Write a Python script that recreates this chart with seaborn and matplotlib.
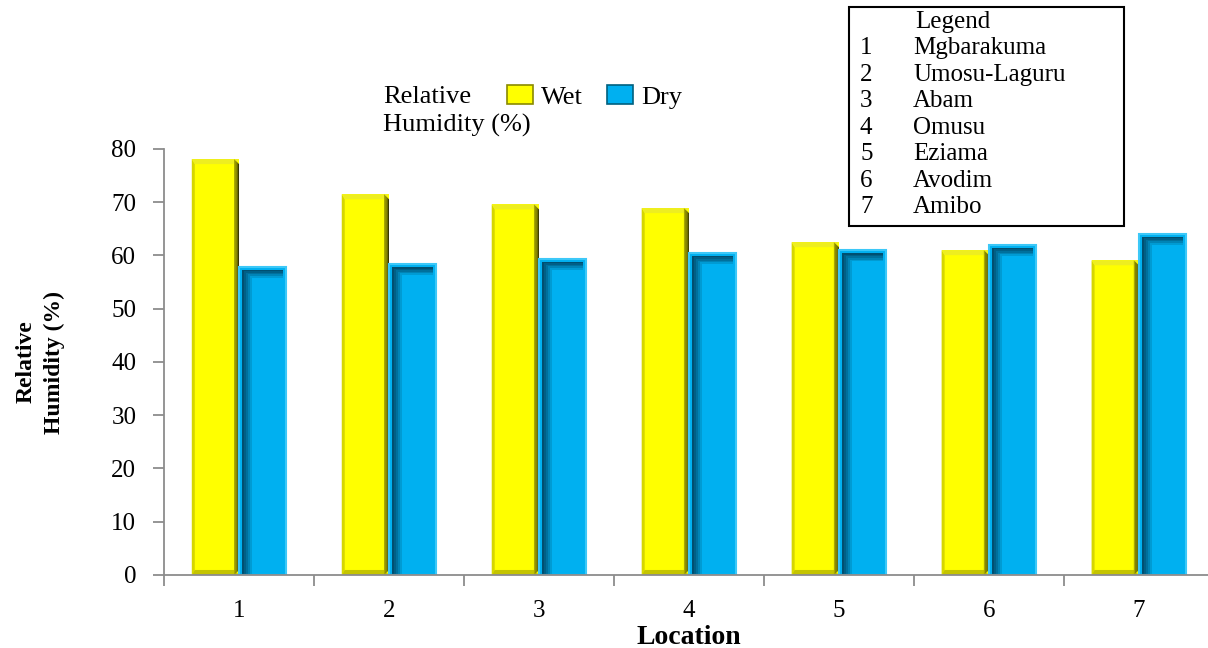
import numpy as np
import pandas as pd
import matplotlib
matplotlib.use("Agg")
import matplotlib.pyplot as plt
from matplotlib.patches import Rectangle, Polygon, Patch
import seaborn as sns

# ---- data ----
locations = ["1", "2", "3", "4", "5", "6", "7"]
location_names = ["Mgbarakuma", "Umosu-Laguru", "Abam", "Omusu",
                  "Eziama", "Avodim", "Amibo"]
seasons = ["Wet", "Dry"]
wet_rh = [78.1, 71.5, 69.6, 68.9, 62.5, 61.0, 59.1]
dry_rh = [57.9, 58.4, 59.4, 60.5, 61.0, 62.0, 64.1]
y_ticks = [0, 10, 20, 30, 40, 50, 60, 70, 80]

WET_COLOR = "#FFFF00"
DRY_COLOR = "#00B0F0"
AXIS_GREY = "#8c8c8c"

df = pd.DataFrame({
    "Location": locations * 2,
    "RH": wet_rh + dry_rh,
    "Season": ["Wet"] * len(locations) + ["Dry"] * len(locations),
})

sns.set_theme(style="ticks")
plt.rcParams["font.family"] = ["Liberation Serif", "DejaVu Serif"]
plt.rcParams["text.color"] = "black"
plt.rcParams["axes.labelcolor"] = "black"

fig = plt.figure(figsize=(12.08, 6.48), dpi=100)
ax = fig.add_axes([0.1358, 0.1127, 0.869, 0.6574])

sns.barplot(data=df, x="Location", y="RH", hue="Season",
            order=locations, hue_order=seasons,
            palette={"Wet": WET_COLOR, "Dry": DRY_COLOR},
            width=0.63, saturation=1, errorbar=None,
            edgecolor="none", linewidth=0, legend=False, ax=ax)

ax.set_xlim(-0.5, len(locations) - 0.5)
ax.set_ylim(0, 80)
ax.set_yticks(y_ticks)
ax.set_yticklabels([str(t) for t in y_ticks])

# ---- axes styling ----
for side in ("top", "right"):
    ax.spines[side].set_visible(False)
for side in ("left", "bottom"):
    ax.spines[side].set_color(AXIS_GREY)
    ax.spines[side].set_linewidth(1.3)

ax.tick_params(axis="y", which="major", left=True, length=8, width=1.3,
               color=AXIS_GREY, direction="out", pad=12, labelsize=18,
               labelcolor="black")
ax.set_xticks(np.arange(-0.5, len(locations), 1.0), minor=True)
ax.tick_params(axis="x", which="major", length=0, pad=18, labelsize=18,
               labelcolor="black")
ax.tick_params(axis="x", which="minor", bottom=True, length=8, width=1.3,
               color=AXIS_GREY, direction="out")
ax.grid(False)
ax.set_ylabel("")
ax.set_xlabel("Location", fontsize=20, fontweight="bold", labelpad=2)

fig.text(40 / 1208, 0.5 + (648 / 2 - 362) / 648, "Relative\nHumidity (%)",
         rotation=90, ha="center", va="center", multialignment="center",
         fontsize=17, fontweight="bold", linespacing=1.45)


# ---- bevelled look for the bars ----
def px_to_data(dx_px, dy_px):
    inv = ax.transData.inverted()
    (x0, y0), (x1, y1) = inv.transform([(0, 0), (dx_px, dy_px)])
    return x1 - x0, y1 - y0


bars = [p for p in ax.patches if isinstance(p, Rectangle) and p.get_height() > 0]
bx, by = px_to_data(5, 5)
for bar in bars:
    x, y = bar.get_x(), bar.get_y()
    w, h = bar.get_width(), bar.get_height()
    fc = matplotlib.colors.to_hex(bar.get_facecolor()).lower()
    z = bar.get_zorder() + 0.1
    if fc == WET_COLOR.lower():
        lx, _ = px_to_data(3, 0)
        # left face
        ax.add_patch(Polygon([(x, y), (x + lx, y + by), (x + lx, h - by), (x, h)],
                             closed=True, fc="#d6d600", ec="none", zorder=z))
        # top face
        ax.add_patch(Polygon([(x, h), (x + lx, h - by), (x + w - bx, h - by), (x + w, h)],
                             closed=True, fc="#eeee20", ec="none", zorder=z))
        # bottom face
        ax.add_patch(Polygon([(x, y), (x + lx, y + by), (x + w - bx, y + by), (x + w, y)],
                             closed=True, fc="#c4c400", ec="none", zorder=z))
        # right face, shaded to dark olive
        shades = ["#a8a800", "#7a7a00", "#545400", "#383800"]
        n = len(shades)
        for i, c in enumerate(shades):
            x0 = x + w - bx + bx * i / n
            ax.add_patch(Polygon([(x0, y + by * (i / n)), (x0, h - by * (i / n)),
                                  (x0 + bx / n, h - by * ((i + 1) / n)),
                                  (x0 + bx / n, y + by * ((i + 1) / n))],
                                 closed=True, fc=c, ec="none", zorder=z))
    elif fc == DRY_COLOR.lower():
        bx2, by2 = px_to_data(3, 3)
        ix, iy = px_to_data(10, 8)
        # inset shadow on the left
        shades = ["#004f70", "#005f86", "#00709c", "#0084b6", "#009bd3"]
        n = len(shades)
        for i, c in enumerate(shades):
            x0 = x + bx2 + ix * i / n
            ax.add_patch(Rectangle((x0, y), ix / n, h - by2 - iy * i / n,
                                   fc=c, ec="none", zorder=z))
        # inset shadow along the top
        for i, c in enumerate(shades):
            y0 = h - by2 - iy * (i + 1) / n
            ax.add_patch(Rectangle((x + bx2 + ix * i / n, y0),
                                   w - 2 * bx2 - ix * i / n, iy / n,
                                   fc=c, ec="none", zorder=z))
        # light rim
        ax.add_patch(Rectangle((x, y), w, h, fc="none", ec="#3cc8f8",
                               lw=1.5, zorder=z + 0.1))

# ---- series legend ----
fig.text(383 / 1208, 1 - 97 / 648, "Relative", ha="left", va="center", fontsize=19)
fig.text(383 / 1208, 1 - 125 / 648, "Humidity (%)", ha="left", va="center", fontsize=19)
handles = [Patch(facecolor=WET_COLOR, edgecolor="#8a8a00", linewidth=1.2),
           Patch(facecolor=DRY_COLOR, edgecolor="#00607f", linewidth=1.2)]
fig.legend(handles, seasons, loc="center left",
           bbox_to_anchor=(507 / 1208, 1 - 97 / 648), ncol=2, frameon=False,
           fontsize=19, handlelength=1.0, handleheight=0.7, handletextpad=0.3,
           columnspacing=0.9, borderpad=0, borderaxespad=0)

# ---- location key box ----
fig.add_artist(Rectangle((849 / 1208, 1 - 226 / 648), (1124 - 849) / 1208,
                         (226 - 7) / 648, transform=fig.transFigure,
                         fc="white", ec="black", lw=1.5, zorder=5))
fig.text(953 / 1208, 1 - 22 / 648, "Legend", ha="center", va="center",
         fontsize=18, zorder=6)
row_y = [48, 75, 101, 128, 154, 181, 207]
for num, name, yy in zip(locations, location_names, row_y):
    fig.text(860 / 1208, 1 - yy / 648, num, ha="left", va="center",
             fontsize=18, zorder=6)
    fig.text(913 / 1208, 1 - yy / 648, name, ha="left", va="center",
             fontsize=18, zorder=6)

fig.savefig("out.png", dpi=100)
